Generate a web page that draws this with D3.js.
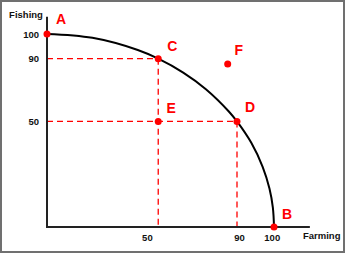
<!DOCTYPE html>
<html><head><meta charset="utf-8">
<script src="https://cdn.jsdelivr.net/npm/d3@7"></script>
<style>body{margin:0;background:#fff}svg{display:block}</style>
</head><body>
<script>
// Production possibility curve, data units 0..100
const curveX = [0, 20, 40, 49, 60, 70, 80, 83.7, 90, 95, 98, 99.5, 100];
const curveY = [100, 98, 91.7, 87.2, 80, 71.4, 60, 54.7, 43.6, 31.2, 19.9, 10, 0];
const pointNames = ["A", "B", "C", "D", "E", "F"];
const pointX = [0, 100, 49, 83.7, 49, 79.6];
const pointY = [100, 0, 87.2, 54.7, 54.7, 84.5];
const xTickVals = [44, 84.6, 99];
const xTickLabels = ["50", "90", "100"];
const yTickVals = [100, 87.2, 54.7];
const yTickLabels = ["100", "90", "50"];
const xTitle = "Farming", yTitle = "Fishing";

const W = 353, H = 254;
const svg = d3.select("body").append("svg").attr("width", W).attr("height", H);
svg.append("rect").attr("x", 1).attr("y", 1).attr("width", 343).attr("height", 251)
  .attr("fill", "#fff").attr("stroke", "#707070").attr("stroke-width", 2);

const x = d3.scaleLinear().domain([0, 100]).range([47, 274]);
const y = d3.scaleLinear().domain([0, 100]).range([227, 34]);
const font = "'Liberation Sans', Arial, sans-serif";

// dashed guides for C and D
const red = "#ff0000";
[2, 3].forEach(i => {
  svg.append("line").attr("x1", x(0)).attr("x2", x(pointX[i]))
    .attr("y1", y(pointY[i])).attr("y2", y(pointY[i]))
    .attr("stroke", red).attr("stroke-width", 1.3).attr("stroke-dasharray", "6,4");
  svg.append("line").attr("x1", x(pointX[i])).attr("x2", x(pointX[i]))
    .attr("y1", y(pointY[i])).attr("y2", y(0))
    .attr("stroke", red).attr("stroke-width", 1.3).attr("stroke-dasharray", "6,4");
});

// axes lines
svg.append("line").attr("x1", x(0)).attr("x2", x(0)).attr("y1", y(109)).attr("y2", y(0))
  .attr("stroke", "#222").attr("stroke-width", 2);
svg.append("line").attr("x1", x(0) - 1).attr("x2", x(115.8)).attr("y1", y(0)).attr("y2", y(0))
  .attr("stroke", "#222").attr("stroke-width", 2);

// axis labels via d3 axes
const xa = svg.append("g").attr("transform", `translate(0,${y(0) + 2})`)
  .call(d3.axisBottom(x).tickValues(xTickVals).tickSize(0).tickFormat((d, i) => xTickLabels[i]));
const ya = svg.append("g").attr("transform", `translate(${x(0) - 3},0)`)
  .call(d3.axisLeft(y).tickValues(yTickVals).tickSize(0).tickFormat((d, i) => yTickLabels[i]));
[xa, ya].forEach(g => {
  g.select(".domain").remove();
  g.selectAll("text").attr("font-family", font).attr("font-weight", "bold")
    .attr("font-size", 9.5).attr("fill", "#111");
});
xa.selectAll("text").attr("dy", "0.95em");
ya.selectAll("text").attr("dx", "-0.2em");

svg.append("text").attr("x", 303).attr("y", 239).attr("font-family", font)
  .attr("font-weight", "bold").attr("font-size", 9.5).attr("fill", "#111").text(xTitle);
svg.append("text").attr("x", 26).attr("y", 18).attr("text-anchor", "middle").attr("font-family", font)
  .attr("font-weight", "bold").attr("font-size", 9.5).attr("fill", "#111").text(yTitle);

// curve
const pts = curveX.map((v, i) => [x(v), y(curveY[i])]);
svg.append("path").attr("d", d3.line().curve(d3.curveCatmullRom.alpha(0.5))(pts))
  .attr("fill", "none").attr("stroke", "#000").attr("stroke-width", 2);

// points
const labelOff = {A: [14, -10], B: [13, -8], C: [14, -8], D: [13, -9], E: [13, -8], F: [11, -9]};
pointNames.forEach((n, i) => {
  svg.append("circle").attr("cx", x(pointX[i])).attr("cy", y(pointY[i])).attr("r", 3.5).attr("fill", red);
  svg.append("text").attr("x", x(pointX[i]) + labelOff[n][0]).attr("y", y(pointY[i]) + labelOff[n][1])
    .attr("text-anchor", "middle").attr("font-family", font).attr("font-weight", "bold")
    .attr("font-size", 14).attr("fill", red).text(n);
});
</script>
</body></html>
